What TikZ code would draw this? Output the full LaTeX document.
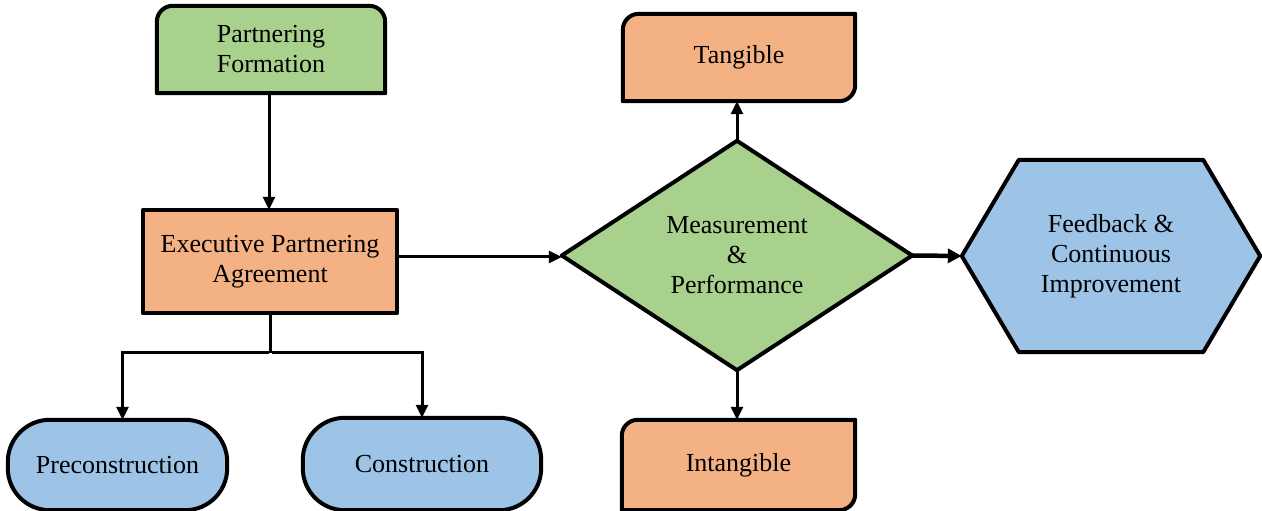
\documentclass[tikz,border=0pt]{standalone}
\usepackage{fontspec}
\setmainfont{Liberation Serif}
\usetikzlibrary{arrows.meta,calc}
\definecolor{grn}{HTML}{A9D18E}
\definecolor{org}{HTML}{F4B183}
\definecolor{blu}{HTML}{9DC3E6}
\pgfdeclarelayer{bg}
\pgfsetlayers{bg,main}
\begin{document}
\begin{tikzpicture}[x=1pt,y=1pt,
  lbl/.style={align=center,font=\fontsize{26}{30}\selectfont,inner sep=0pt},
  outline/.style={draw=black,line width=4pt,line join=round},
  conn/.style={line width=3pt,-{Triangle[length=13pt,width=12pt]}},
]
\useasboundingbox (0,0) rectangle (1262,511);
\node[lbl,minimum width=228,minimum height=87] (pf) at (271,461.5) {Partnering\\Formation};
\node[lbl,minimum width=254,minimum height=103] (epa) at (270,249.5) {Executive Partnering\\Agreement};
\node[lbl,minimum width=219,minimum height=90] (pc) at (117.5,46) {Preconstruction};
\node[lbl,minimum width=238,minimum height=92] (cn) at (422,47) {Construction};
\node[lbl,minimum width=350,minimum height=229] (ms) at (737,255.5) {Measurement\\\&\\Performance};
\node[lbl,minimum width=232,minimum height=87] (tg) at (739,453.5) {Tangible};
\node[lbl,minimum width=233,minimum height=90] (it) at (738.5,46) {Intangible};
\node[lbl,minimum width=298,minimum height=192] (fb) at (1111,255) {Feedback \&\\Continuous\\Improvement};
\begin{pgfonlayer}{bg}
\draw[outline,fill=grn] (pf.south west) -- ([yshift=-16]pf.north west) arc[start angle=180,end angle=90,radius=16] -- ([xshift=-16]pf.north east) arc[start angle=90,end angle=0,radius=16] -- (pf.south east) -- cycle;
\draw[outline,fill=org] (epa.south west) rectangle (epa.north east);
\draw[outline,fill=blu,rounded corners=42] (pc.south west) rectangle (pc.north east);
\draw[outline,fill=blu,rounded corners=42] (cn.south west) rectangle (cn.north east);
\draw[outline,fill=grn] (ms.west) -- (ms.north) -- (ms.east) -- (ms.south) -- cycle;
\draw[outline,fill=org] (tg.south west) -- ([yshift=-16]tg.north west) arc[start angle=180,end angle=90,radius=16] -- (tg.north east) -- ([yshift=16]tg.south east) arc[start angle=0,end angle=-90,radius=16] -- cycle;
\draw[outline,fill=org] (it.south west) -- ([yshift=-16]it.north west) arc[start angle=180,end angle=90,radius=16] -- (it.north east) -- ([yshift=16]it.south east) arc[start angle=0,end angle=-90,radius=16] -- cycle;
\draw[outline,fill=blu] (fb.west) -- ([xshift=57]fb.north west) -- ([xshift=-57]fb.north east) -- (fb.east) -- ([xshift=-57]fb.south east) -- ([xshift=57]fb.south west) -- cycle;
\end{pgfonlayer}
\draw[conn] ([xshift=-2]pf.south) -- ([xshift=-2]pf.south |- epa.north);
\draw[conn] (epa.east |- 0,254) -- (ms.west |- 0,254);
\draw[conn,line width=4.5pt,-{Triangle[length=14pt,width=14pt]}] (ms.east) -- (fb.west);
\draw[conn] (ms.north) -- (ms.north |- tg.south);
\draw[conn] (ms.south) -- (ms.south |- it.north);
\draw[line width=3pt] (epa.south) -- (epa.south |- 0,158) coordinate (br);
\draw[conn,line join=miter] ([xshift=-1.5]br) -| ([xshift=5]pc.north);
\draw[conn,line join=miter] ([xshift=1.5]br) -| (cn.north);
\end{tikzpicture}
\end{document}
